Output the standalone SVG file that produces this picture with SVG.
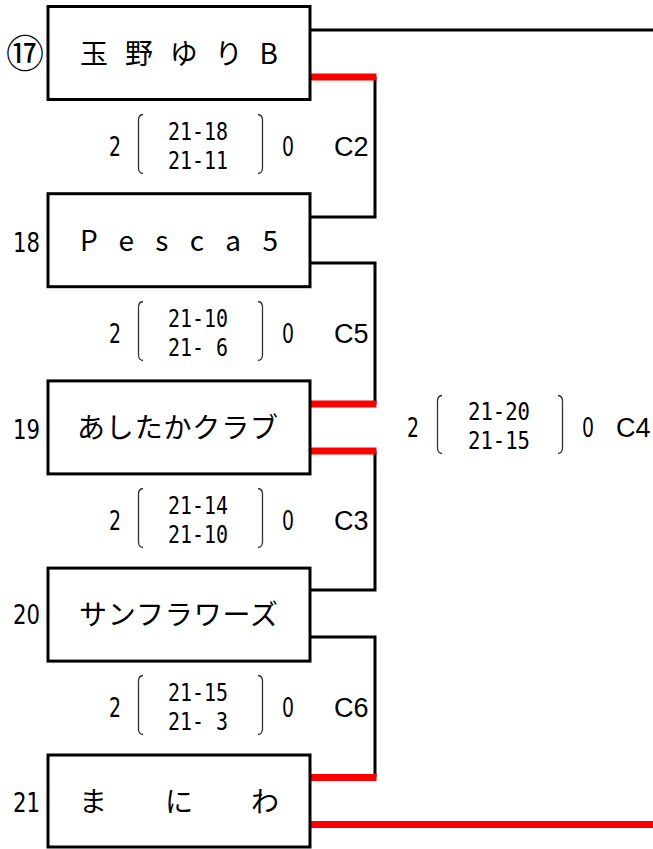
<svg xmlns="http://www.w3.org/2000/svg" width="653" height="849" viewBox="0 0 653 849">
<style>
.box{fill:#fff;stroke:#000;stroke-width:3}
.bk{stroke:#000;stroke-width:3;fill:none}
.rd{stroke:#f00;stroke-width:7;fill:none}
.br{stroke:#333;stroke-width:1.3;fill:none}
.name{font-family:"Noto Sans CJK JP","Noto Sans",sans-serif;font-size:28px;fill:#000}
.num{font-family:"DejaVu Sans",sans-serif;font-size:27px;fill:#000}
.sc{font-family:"DejaVu Sans Mono",monospace;font-size:24px;fill:#000}
.c{font-family:"Liberation Sans",Arial,sans-serif;font-size:27px;fill:#000}
</style>
<rect width="653" height="849" fill="#fff"/>
<g id="connectors">
  <line class="bk" x1="310" y1="30" x2="653" y2="30"/>
  <polyline class="bk" points="310,217 375,217 375,77"/>
  <line class="rd" x1="310" y1="77" x2="376.5" y2="77"/>
  <polyline class="bk" points="310,263 375,263 375,404"/>
  <line class="rd" x1="310" y1="404" x2="376.5" y2="404"/>
  <polyline class="bk" points="375,451 375,590 310,590"/>
  <line class="rd" x1="310" y1="451" x2="376.5" y2="451"/>
  <polyline class="bk" points="310,637 375,637 375,777.5"/>
  <line class="rd" x1="310" y1="777.5" x2="376.5" y2="777.5"/>
  <line class="rd" x1="310" y1="824.5" x2="653" y2="824.5"/>
</g>
<g id="n17">
  <rect class="box" x="48" y="6.5" width="262" height="93"/>
  <text class="name" x="80" y="64" textLength="198" lengthAdjust="spacing">玉野ゆりB</text>
  <text x="6" y="67" font-family="Noto Sans CJK JP,sans-serif" font-size="38">⑰</text>
</g>
<g id="n18">
  <rect class="box" x="48" y="193.7" width="262" height="93"/>
  <text class="name" x="80" y="251" font-size="27" textLength="198" lengthAdjust="spacing">Pesca5</text>
  <text class="num" x="13" y="252" textLength="27" lengthAdjust="spacingAndGlyphs">18</text>
</g>
<g id="n19">
  <rect class="box" x="48" y="380.9" width="262" height="93"/>
  <text class="name" x="77" y="438" textLength="201" lengthAdjust="spacing">あしたかクラブ</text>
  <text class="num" x="13" y="439" textLength="27" lengthAdjust="spacingAndGlyphs">19</text>
</g>
<g id="n20">
  <rect class="box" x="48" y="568.1" width="262" height="93"/>
  <text class="name" x="79" y="625" textLength="199" lengthAdjust="spacing">サンフラワーズ</text>
  <text class="num" x="13" y="624" textLength="27" lengthAdjust="spacingAndGlyphs">20</text>
</g>
<g id="n21">
  <rect class="box" x="48" y="755" width="262" height="92"/>
  <text class="name" x="79" y="812" textLength="200" lengthAdjust="spacing">まにわ</text>
  <text class="num" x="13" y="812" textLength="27" lengthAdjust="spacingAndGlyphs">21</text>
</g>
<g id="scoreC2">
  <text class="num" x="109" y="156" font-size="26" textLength="12" lengthAdjust="spacingAndGlyphs">2</text>
  <path class="br" d="M143,114.5 Q138.5,115 138.5,120 L138.5,168 Q138.5,173 143,173.5"/>
  <text class="sc" x="168" y="140" textLength="60" lengthAdjust="spacingAndGlyphs">21-18</text>
  <text class="sc" x="168" y="169" textLength="60" lengthAdjust="spacingAndGlyphs">21-11</text>
  <path class="br" d="M258,114.5 Q262.5,115 262.5,120 L262.5,168 Q262.5,173 258,173.5"/>
  <text class="num" x="282" y="156" font-size="26" textLength="12" lengthAdjust="spacingAndGlyphs">0</text>
  <text class="c" x="334" y="156">C2</text>
</g>
<g id="scoreC5">
  <text class="num" x="109" y="343" font-size="26" textLength="12" lengthAdjust="spacingAndGlyphs">2</text>
  <path class="br" d="M143,301.5 Q138.5,302 138.5,307 L138.5,355 Q138.5,360 143,360.5"/>
  <text class="sc" x="168" y="327" textLength="60" lengthAdjust="spacingAndGlyphs">21-10</text>
  <text class="sc" x="168" y="356" textLength="60" lengthAdjust="spacingAndGlyphs">21- 6</text>
  <path class="br" d="M258,301.5 Q262.5,302 262.5,307 L262.5,355 Q262.5,360 258,360.5"/>
  <text class="num" x="282" y="343" font-size="26" textLength="12" lengthAdjust="spacingAndGlyphs">0</text>
  <text class="c" x="334" y="343">C5</text>
</g>
<g id="scoreC3">
  <text class="num" x="109" y="530" font-size="26" textLength="12" lengthAdjust="spacingAndGlyphs">2</text>
  <path class="br" d="M143,488.5 Q138.5,489 138.5,494 L138.5,542 Q138.5,547 143,547.5"/>
  <text class="sc" x="168" y="514" textLength="60" lengthAdjust="spacingAndGlyphs">21-14</text>
  <text class="sc" x="168" y="543" textLength="60" lengthAdjust="spacingAndGlyphs">21-10</text>
  <path class="br" d="M258,488.5 Q262.5,489 262.5,494 L262.5,542 Q262.5,547 258,547.5"/>
  <text class="num" x="282" y="530" font-size="26" textLength="12" lengthAdjust="spacingAndGlyphs">0</text>
  <text class="c" x="334" y="530">C3</text>
</g>
<g id="scoreC6">
  <text class="num" x="109" y="717" font-size="26" textLength="12" lengthAdjust="spacingAndGlyphs">2</text>
  <path class="br" d="M143,675.5 Q138.5,676 138.5,681 L138.5,729 Q138.5,734 143,734.5"/>
  <text class="sc" x="168" y="701" textLength="60" lengthAdjust="spacingAndGlyphs">21-15</text>
  <text class="sc" x="168" y="730" textLength="60" lengthAdjust="spacingAndGlyphs">21- 3</text>
  <path class="br" d="M258,675.5 Q262.5,676 262.5,681 L262.5,729 Q262.5,734 258,734.5"/>
  <text class="num" x="282" y="717" font-size="26" textLength="12" lengthAdjust="spacingAndGlyphs">0</text>
  <text class="c" x="334" y="717">C6</text>
</g>
<g id="scoreC4">
  <text class="num" x="407" y="437" font-size="26" textLength="12" lengthAdjust="spacingAndGlyphs">2</text>
  <path class="br" d="M442,395.5 Q437.5,396 437.5,401 L437.5,448 Q437.5,453 442,453.5"/>
  <text class="sc" x="468" y="420" textLength="62" lengthAdjust="spacingAndGlyphs">21-20</text>
  <text class="sc" x="468" y="449" textLength="62" lengthAdjust="spacingAndGlyphs">21-15</text>
  <path class="br" d="M558,395.5 Q562.5,396 562.5,401 L562.5,448 Q562.5,453 558,453.5"/>
  <text class="num" x="582" y="437" font-size="26" textLength="12" lengthAdjust="spacingAndGlyphs">0</text>
  <text class="c" x="616" y="437">C4</text>
</g>
</svg>
